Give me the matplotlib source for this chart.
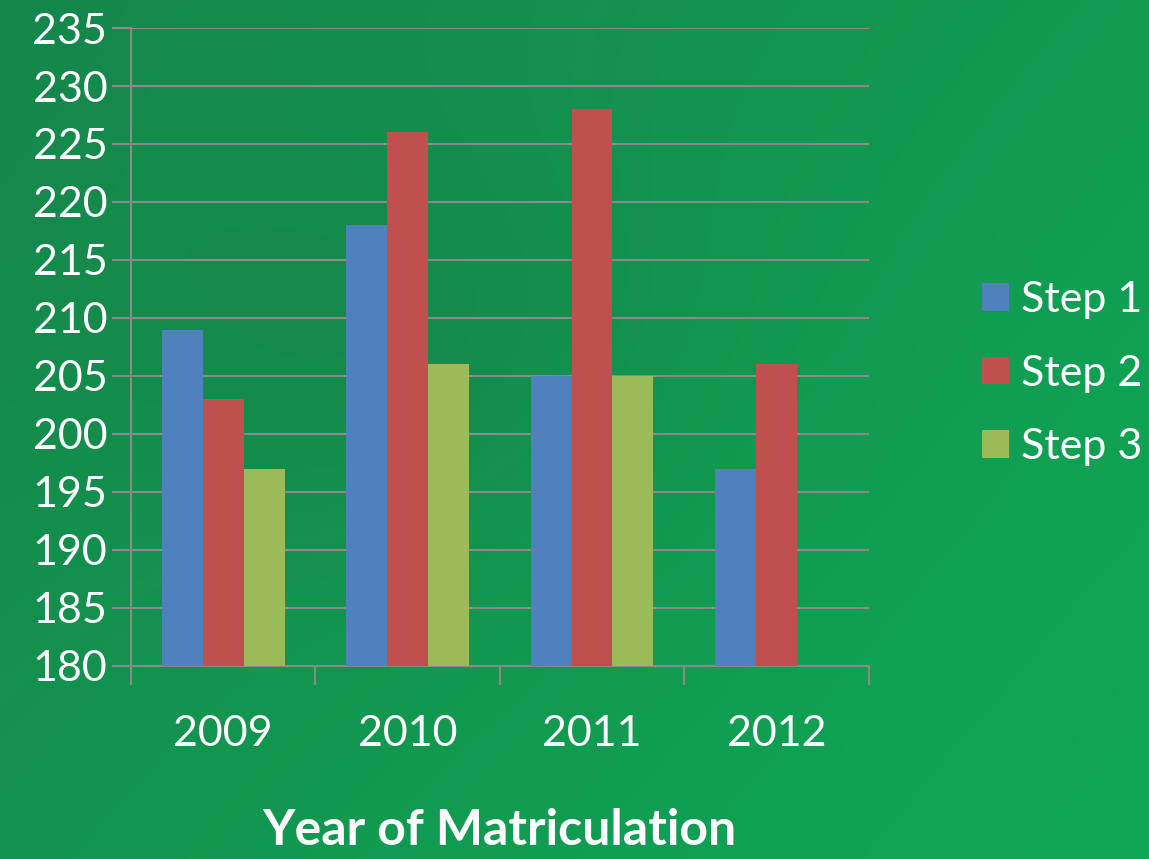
import matplotlib.pyplot as plt
import numpy as np

years = ["2009", "2010", "2011", "2012"]
step1 = [209, 218, 205, 197]
step2 = [203, 226, 228, 206]
step3 = [197, 206, 205, np.nan]
series_names = ["Step 1", "Step 2", "Step 3"]
colors = ["#4f81bd", "#c0504d", "#9bbb59"]
y_ticks = list(range(180, 236, 5))

plt.rcParams['font.family'] = ['Lato', 'DejaVu Sans']

fig = plt.figure(figsize=(11.49, 8.59), dpi=100)

# green gradient background
bg = fig.add_axes([0, 0, 1, 1], zorder=-10)
yy, xx = np.mgrid[0:1:200j, 0:1:300j]
r = 0.12 + 0.35 * xx + 0.22 * yy - 0.15 * np.exp(-((xx - 0.35) ** 2 + (yy - 0.4) ** 2) / 0.06)
c0 = np.array([22, 128, 72]) / 255
c1 = np.array([12, 186, 92]) / 255
img = c0 + (c1 - c0) * np.clip(r, 0, 1)[..., None]
bg.imshow(img, aspect='auto', extent=[0, 1, 0, 1], origin='upper')
bg.axis('off')

ax = fig.add_axes([0.114, 0.2247, 0.642, 0.7427])
ax.patch.set_alpha(0)

x = np.arange(len(years))
w = 0.222
for k, (vals, name) in enumerate(zip([step1, step2, step3], series_names)):
    v = np.array(vals, dtype=float)
    ax.bar(x + (k - 1) * w, v - 180, w, bottom=180, color=colors[k], label=name, zorder=3)

ax.set_xlim(-0.5, 3.5)
ax.set_ylim(180, 235)
ax.set_yticks(y_ticks)
ax.set_yticklabels([str(t) for t in y_ticks], color='white', fontsize=31)
ax.yaxis.grid(True, color='#8a8a8a', linewidth=1.5, zorder=0)
ax.tick_params(axis='y', length=14, width=1.5, color='#8a8a8a', pad=3)

ax.set_xticks(x)
ax.set_xticklabels(years, color='white', fontsize=31)
ax.set_xticks(np.arange(-0.5, 4, 1), minor=True)
ax.tick_params(axis='x', which='major', length=0, pad=35)
ax.tick_params(axis='x', which='minor', length=14, width=1.5, color='#8a8a8a')

for s in ['top', 'right']:
    ax.spines[s].set_visible(False)
for s in ['left', 'bottom']:
    ax.spines[s].set_color('#8a8a8a')
    ax.spines[s].set_linewidth(1.5)

ax.set_xlabel("Year of Matriculation", color='white', fontsize=36, fontweight='bold', labelpad=40)

handles, labels = ax.get_legend_handles_labels()
fig.legend(handles, labels, loc='center left', bbox_to_anchor=(0.855, 0.565), frameon=False,
           fontsize=31, labelcolor='white', handlelength=0.62, handleheight=0.62,
           handletextpad=0.28, labelspacing=0.83, borderpad=0, borderaxespad=0)

fig.savefig("out.png", dpi=100)
